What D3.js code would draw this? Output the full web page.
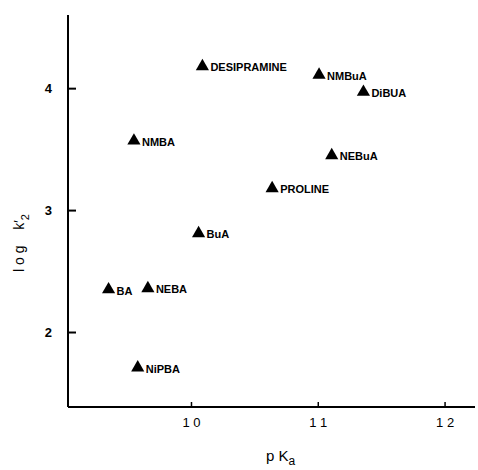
<!DOCTYPE html>
<html>
<head>
<meta charset="utf-8">
<script src="https://cdn.jsdelivr.net/npm/d3@7"></script>
<style>
body { margin: 0; background: #fff; }
text { font-family: "Liberation Sans", Arial, sans-serif; fill: #000; white-space: pre; }
</style>
</head>
<body>
<div id="canvas"></div>
<script>
// data
var names = ['DESIPRAMINE', 'NMBuA', 'DiBUA', 'NMBA', 'NEBuA', 'PROLINE', 'BuA', 'BA', 'NEBA', 'NiPBA'];
var pKa = [10.09, 11.01, 11.36, 9.55, 11.11, 10.64, 10.06, 9.35, 9.66, 9.58];
var logk2 = [4.17, 4.10, 3.96, 3.56, 3.44, 3.17, 2.80, 2.34, 2.35, 1.70];
var xTicks = [10, 11, 12];
var yTicks = [2, 3, 4];

var W = 478, H = 470;
var x0 = 68, x1 = 475, yTop = 15, yBot = 407;

var x = d3.scaleLinear().domain([9.03, 12.24]).range([x0, x1]);
var y = d3.scaleLinear().domain([1.385, 4.6]).range([yBot, yTop]);

var svg = d3.select('#canvas')
    .append('svg')
    .attr('width', W)
    .attr('height', H);

// axes
var yAxis = d3.axisLeft(y).tickValues(yTicks).tickSize(-8).tickPadding(16).tickFormat(d3.format('d'));
var gy = svg.append('g')
    .attr('transform', 'translate(' + x0 + ',0)')
    .call(yAxis);
gy.select('.domain').attr('d', 'M0,' + yTop + 'V' + yBot).attr('stroke-width', 2);
gy.selectAll('.tick line').attr('stroke-width', 2);
gy.selectAll('.tick text')
    .style('font-size', '13px')
    .style('font-weight', 'bold');

var xAxis = d3.axisBottom(x).tickValues(xTicks).tickSize(-5).tickPadding(11).tickFormat(function(d){ return d.toString().split('').join(' '); });
var gx = svg.append('g')
    .attr('transform', 'translate(0,' + yBot + ')')
    .call(xAxis);
gx.select('.domain').attr('d', 'M' + x0 + ',0H' + x1).attr('stroke-width', 2);
gx.selectAll('.tick line').attr('stroke-width', 1.5);
gx.selectAll('.tick text')
    .style('font-size', '13px');

// points
var tri = d3.symbol().type(d3.symbolTriangle).size(75);
var pts = svg.selectAll('.pt')
    .data(names)
    .enter()
    .append('g')
    .attr('class', 'pt')
    .attr('transform', function(d, i){ return 'translate(' + x(pKa[i]) + ',' + y(logk2[i]) + ')'; });

pts.append('path')
    .attr('d', tri)
    .attr('transform', 'translate(0,-1)')
    .attr('fill', '#000');

pts.append('text')
    .attr('x', 8)
    .attr('y', 4)
    .style('font-size', '11px')
    .style('font-weight', 'bold')
    .text(function(d){ return d; });

// axis titles
var yl = svg.append('text')
    .attr('transform', 'translate(24,243) rotate(-90)')
    .attr('text-anchor', 'middle')
    .style('font-size', '14px');
yl.append('tspan').text('l o g    k\u2032');
yl.append('tspan').attr('dy', 5).style('font-size', '11px').text('2');

var xl = svg.append('text')
    .attr('x', 266)
    .attr('y', 461)
    .style('font-size', '15px');
xl.append('tspan').text('p K');
xl.append('tspan').attr('dy', 4).style('font-size', '12px').text('a');
</script>
</body>
</html>
